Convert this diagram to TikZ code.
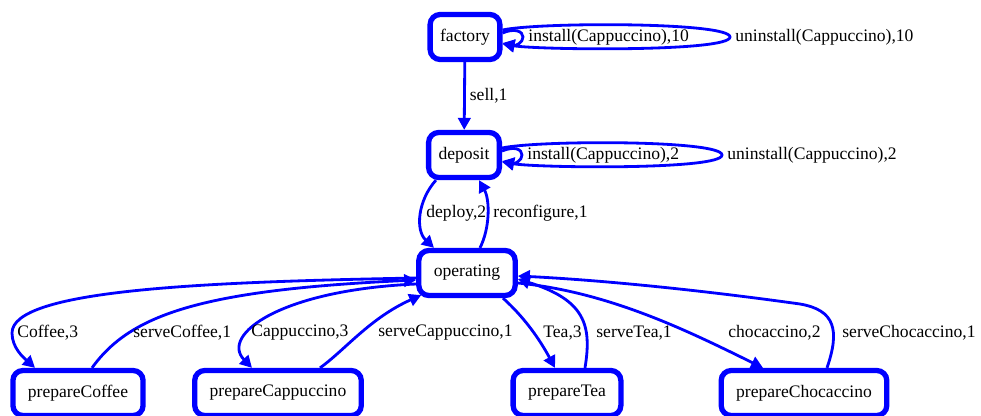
\documentclass[tikz,border=0pt]{standalone}
\usepackage{fontspec}
\setmainfont{Liberation Serif}
\usetikzlibrary{arrows.meta}
\tikzset{
  statenode/.style={rectangle, rounded corners=0.2cm, draw=blue, line width=3pt, minimum height=0.9cm, inner xsep=0.2cm, font=\rmfamily\normalsize, align=center},
  widenode/.style={statenode, inner xsep=0.3cm},
  trans/.style={draw=blue, line width=1.6pt, -{Triangle[length=0.24cm, width=0.25cm]}},
  tlabel/.style={font=\rmfamily\normalsize, inner sep=0.08cm, text=black}
}

\begin{document}
\begin{tikzpicture}[x=0.02cm, y=-0.02cm]
  \useasboundingbox (0,0) rectangle (981,416);

  \node[statenode] (factory) at (465,37) {factory};
  \node[statenode] (deposit) at (464,155) {deposit};
  \node[widenode] (operating) at (467,273) {operating};
  \node[widenode] (prepareCoffee) at (78,393) {prepareCoffee};
  \node[widenode] (prepareCappuccino) at (278,393) {prepareCappuccino};
  \node[widenode] (prepareTea) at (567,393) {prepareTea};
  \node[widenode] (prepareChocaccino) at (804,393) {prepareChocaccino};

  \draw[trans] (factory.east |- 0,33) .. controls (514,28) and (523,31) .. (523,37)
    node[tlabel, anchor=west] {install(Cappuccino),10}
    .. controls (523,43) and (515,46) .. (factory.east |- 0,43);
  \draw[trans] (factory.east |- 0,30) .. controls (540,22) and (730,22) .. (730,37)
    node[tlabel, anchor=west] {uninstall(Cappuccino),10}
    .. controls (730,52) and (540,50) .. (factory.east |- 0,44);
  \draw[trans] (factory) -- (deposit) node[tlabel, midway, anchor=west] {sell,1};

  \draw[trans] (deposit.east |- 0,151) .. controls (514,146) and (522,149) .. (522,155)
    node[tlabel, anchor=west] {install(Cappuccino),2}
    .. controls (522,161) and (514,164) .. (deposit.east |- 0,161);
  \draw[trans] (deposit.east |- 0,148) .. controls (540,140) and (722,140) .. (722,155)
    node[tlabel, anchor=west] {uninstall(Cappuccino),2}
    .. controls (722,170) and (540,168) .. (deposit.east |- 0,162);

  \draw[trans] (436,0 |- deposit.south) .. controls (418,200) and (415,230) .. (434,0 |- operating.north)
    node[tlabel, anchor=west] at (421,213) {deploy,2};
  \draw[trans] (480,0 |- operating.north) .. controls (490,228) and (490,200) .. (479,0 |- deposit.south)
    node[tlabel, anchor=west] at (488,213) {reconfigure,1};

  \draw[trans] (operating.west |- 0,278) .. controls (200,282) and (12,290) .. (12,333)
    node[tlabel, anchor=west] {Coffee,3}
    .. controls (12,348) and (24,358) .. (35,0 |- prepareCoffee.north);
  \draw[trans] (92,0 |- prepareCoffee.north) .. controls (130,315) and (200,290) .. (operating.west |- 0,280)
    node[tlabel, anchor=west] at (128,333) {serveCoffee,1};
  \draw[trans] (operating.west |- 0,284) .. controls (280,290) and (220,335) .. (252,0 |- prepareCappuccino.north)
    node[tlabel, anchor=west] at (246,333) {Cappuccino,3};
  \draw[trans] (320,0 |- prepareCappuccino.north) .. controls (345,350) and (370,318) .. ([shift={(5,-3)}]operating.south west)
    node[tlabel, anchor=west] at (373,333) {serveCappuccino,1};
  \draw[trans] (503,0 |- operating.south) .. controls (525,318) and (540,340) .. (555,0 |- prepareTea.north)
    node[tlabel, anchor=west] at (538,333) {Tea,3};
  \draw[trans] (585,0 |- prepareTea.north) .. controls (592,325) and (585,300) .. (operating.east |- 0,279)
    node[tlabel, anchor=west] at (591,333) {serveTea,1};
  \draw[trans] (operating.east |- 0,283) .. controls (610,292) and (690,332) .. (763,0 |- prepareChocaccino.north)
    node[tlabel, anchor=west] at (723,333) {chocaccino,2};
  \draw[trans] (827,0 |- prepareChocaccino.north) .. controls (840,330) and (835,310) .. (800,304)
    .. controls (700,290) and (600,280) .. (operating.east |- 0,276)
    node[tlabel, anchor=west] at (837,333) {serveChocaccino,1};
\end{tikzpicture}
\end{document}
